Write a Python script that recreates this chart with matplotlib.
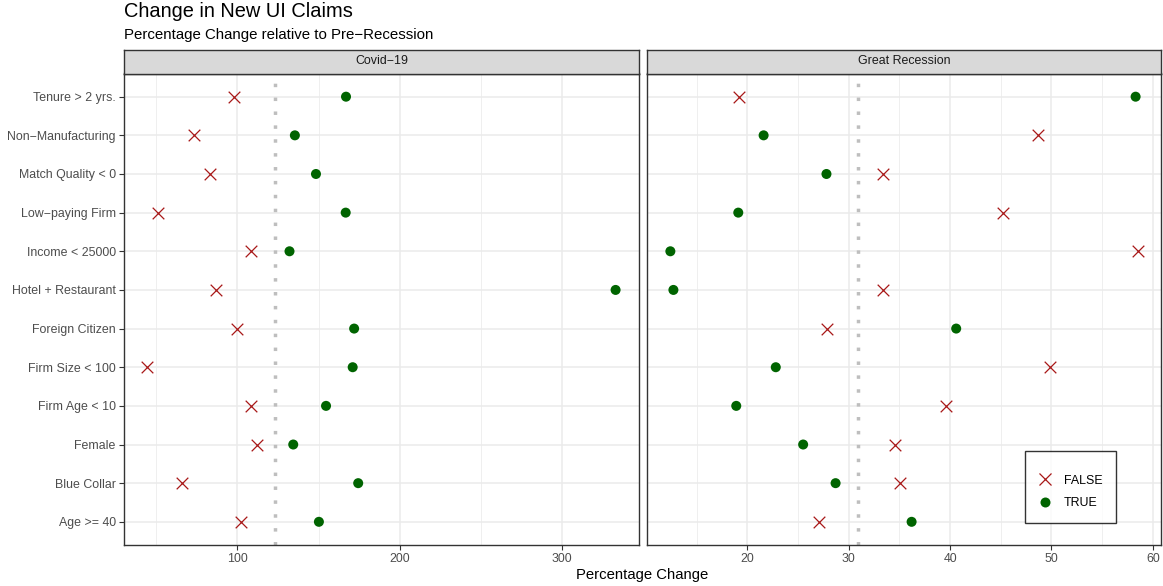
import numpy as np
import matplotlib
matplotlib.use("Agg")
import matplotlib.pyplot as plt
from matplotlib.lines import Line2D

plt.rcParams["font.family"] = ["Liberation Sans", "DejaVu Sans"]

# Groups, top to bottom
groups = [
    "Tenure > 2 yrs.", "Non\u2212Manufacturing", "Match Quality < 0",
    "Low\u2212paying Firm", "Income < 25000", "Hotel + Restaurant",
    "Foreign Citizen", "Firm Size < 100", "Firm Age < 10", "Female",
    "Blue Collar", "Age >= 40",
]

# Percentage change, Covid-19
covid_false = [97.8, 73.4, 83.4, 51.1, 108.4, 86.9, 99.8, 44.6, 108.6, 111.9, 66.1, 102.5]
covid_true = [166.9, 135.4, 148.4, 166.7, 132.1, 332.9, 171.9, 171.0, 154.6, 134.4, 174.4, 150.2]
covid_ref = 122.9

# Percentage change, Great Recession
gr_false = [19.2, 48.7, 33.4, 45.2, 58.5, 33.4, 27.9, 49.9, 39.6, 34.6, 35.1, 27.1]
gr_true = [58.3, 21.6, 27.8, 19.1, 12.4, 12.7, 40.6, 22.8, 18.9, 25.5, 28.7, 36.2]
gr_ref = 30.9

panels = [
    ("Covid\u221219", covid_false, covid_true, covid_ref, [100, 200, 300], [50, 150, 250]),
    ("Great Recession", gr_false, gr_true, gr_ref, [20, 30, 40, 50, 60], [15, 25, 35, 45, 55]),
]

W, H = 1163, 586
fig = plt.figure(figsize=(W / 100, H / 100), dpi=100)

def fx(px):
    return px / W

def fy(py):
    return 1 - py / H

x_edges = [(124, 639), (647, 1161)]
top, bottom, strip_top = 73.5, 545.0, 49.5

RED = "#A81818"
GREEN = "#006400"
GRID = "#EBEBEB"
BORDER = "#333333"
TICKTXT = "#4D4D4D"
FS = 8.9

n = len(groups)
ypos = np.arange(n)[::-1]

for i, (name, vf, vt, ref, majors, minors) in enumerate(panels):
    x0, x1 = x_edges[i]
    ax = fig.add_axes([fx(x0), fy(bottom), fx(x1 - x0), (bottom - top) / H])
    lo = min(min(vf), min(vt))
    hi = max(max(vf), max(vt))
    pad = 0.05 * (hi - lo)
    ax.set_xlim(lo - pad, hi + pad)
    ax.set_ylim(-0.6, n - 1 + 0.6)

    for m in minors:
        ax.axvline(m, color=GRID, lw=0.55, zorder=0)
    for m in majors:
        ax.axvline(m, color=GRID, lw=1.1, zorder=0)
    for y in ypos:
        ax.axhline(y, color=GRID, lw=1.1, zorder=0)

    ax.axvline(ref, color="#BEBEBE", lw=2.5, linestyle=(0, (1, 3)), zorder=1)

    ax.scatter(vf, ypos, marker="x", s=70, color=RED, linewidths=0.9, zorder=3)
    ax.scatter(vt, ypos, marker="o", s=52, color=GREEN, edgecolors="none", zorder=3)

    ax.set_xticks(majors)
    ax.set_xticklabels([str(m) for m in majors])
    ax.set_yticks(ypos)
    ax.tick_params(axis="both", colors=BORDER, labelcolor=TICKTXT, labelsize=FS,
                   length=3.5, width=0.8, pad=2.5)
    if i == 0:
        ax.set_yticklabels(groups)
    else:
        ax.set_yticklabels([])
        ax.tick_params(axis="y", length=0)
    for s in ax.spines.values():
        s.set_color(BORDER)
        s.set_linewidth(1.0)

    # facet strip
    sax = fig.add_axes([fx(x0), fy(top), fx(x1 - x0), (top - strip_top) / H])
    sax.set_xticks([])
    sax.set_yticks([])
    sax.set_facecolor("#D9D9D9")
    for s in sax.spines.values():
        s.set_color(BORDER)
        s.set_linewidth(1.0)
    sax.text(0.5, 0.5, name, ha="center", va="center", fontsize=FS,
             color="#1A1A1A", transform=sax.transAxes)

fig.text(fx(124), fy(17), "Change in New UI Claims", fontsize=14.4, color="black",
         ha="left", va="baseline")
fig.text(fx(124), fy(39), "Percentage Change relative to Pre\u2212Recession", fontsize=10.8,
         color="black", ha="left", va="baseline")
fig.text(fx(642.5), fy(579), "Percentage Change", fontsize=10.7, color="black",
         ha="center", va="baseline")

handles = [
    Line2D([], [], marker="x", linestyle="none", color=RED, markersize=8.3,
           markeredgewidth=0.9, label="FALSE"),
    Line2D([], [], marker="o", linestyle="none", color=GREEN, markeredgecolor="none",
           markersize=7.2, label="TRUE"),
]
leg = fig.legend(handles=handles, loc="upper left",
                 bbox_to_anchor=(fx(1025), fy(451)), bbox_transform=fig.transFigure,
                 borderaxespad=0, frameon=True, fancybox=False, fontsize=FS,
                 title=" ", title_fontsize=1, handlelength=1.0, handletextpad=1.0,
                 labelspacing=0.87, borderpad=1.12)
# tighter gap between the (blank) legend title and the entries
leg._legend_box.sep = 6.4
leg.get_frame().set_edgecolor("black")
leg.get_frame().set_linewidth(1.0)
for t in leg.get_texts():
    t.set_color("black")

fig.savefig("out.png", dpi=100)
